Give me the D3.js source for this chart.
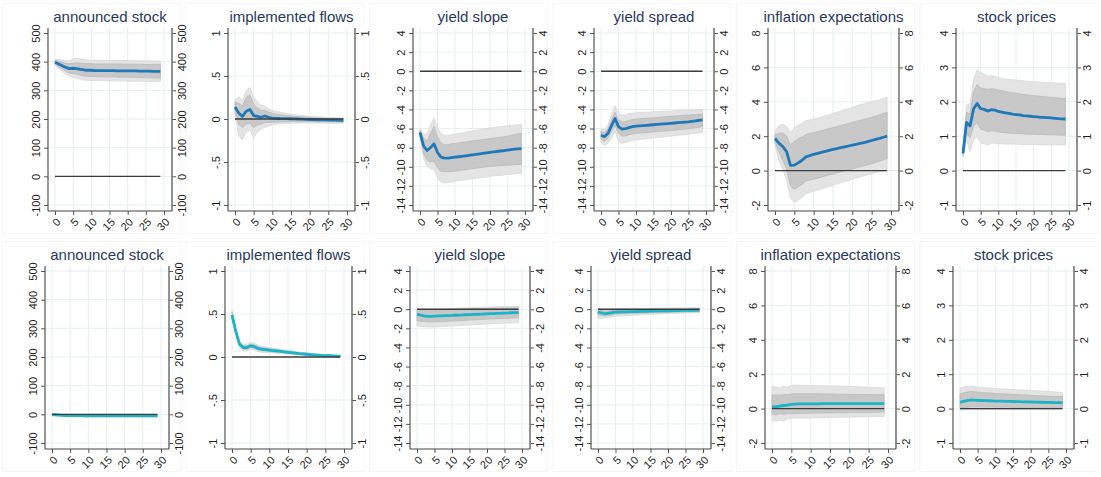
<!DOCTYPE html>
<html>
<head>
<meta charset="utf-8">
<script src="https://cdnjs.cloudflare.com/ajax/libs/d3/7.8.5/d3.min.js"></script>
<style>
  body { margin: 0; background: #fff; }
  svg { display: block; font-family: "Liberation Sans", Arial, sans-serif; }
</style>
</head>
<body>
<div id="chart"></div>
<script>
// impulse responses, horizons 0..29, two rows of six panels

var horizon = [0,1,2,3,4,5,6,7,8,9,10,11,12,13,14,15,16,17,18,19,20,21,22,23,24,25,26,27,28,29];
var xTicks = [0,5,10,15,20,25,30];

var titles = ["announced stock", "implemented flows", "yield slope", "yield spread", "inflation expectations", "stock prices"];

var yTicks = [
  [-100,0,100,200,300,400,500],
  [-1,-0.5,0,0.5,1],
  [-14,-12,-10,-8,-6,-4,-2,0,2,4],
  [-14,-12,-10,-8,-6,-4,-2,0,2,4],
  [-2,0,2,4,6,8],
  [-1,0,1,2,3,4]
];
var yTickLabels = [
  ["-100","0","100","200","300","400","500"],
  ["-1","-.5","0",".5","1"],
  ["-14","-12","-10","-8","-6","-4","-2","0","2","4"],
  ["-14","-12","-10","-8","-6","-4","-2","0","2","4"],
  ["-2","0","2","4","6","8"],
  ["-1","0","1","2","3","4"]
];

/* TOP ROW */
var stockMid    = [398,392,386,380,376,377,376,373,371,370,370,369,369,369,369,369,369,368,368,368,368,368,368,367,367,367,367,366,366,366];
var stockInHi   = [404,402,398,394,393,395,396,395,394,393,393,392,392,392,392,392,392,392,392,391,391,391,391,391,391,390,390,390,390,390];
var stockInLo   = [392,382,374,366,360,358,356,352,350,349,348,348,347,347,347,347,347,346,346,346,346,345,345,345,345,344,344,343,343,343];
var stockOutHi  = [408,408,406,403,403,410,412,410,408,406,405,405,405,404,404,404,404,404,404,404,404,403,403,403,403,403,403,402,402,402];
var stockOutLo  = [388,376,366,356,350,345,342,338,336,335,334,334,334,334,334,333,333,333,333,333,332,332,332,332,332,331,331,331,330,330];

var flowsMid    = [0.14,0.07,0.03,0.09,0.11,0.04,0.03,0.02,0.035,0.02,0.01,0.008,0.006,0.005,0.004,0.003,0.002,0,-0.002,-0.004,-0.006,-0.008,-0.009,-0.01,-0.011,-0.012,-0.013,-0.014,-0.015,-0.015];
var flowsInHi   = [0.2,0.18,0.15,0.25,0.28,0.17,0.13,0.1,0.1,0.08,0.065,0.055,0.05,0.045,0.04,0.035,0.03,0.027,0.024,0.021,0.018,0.015,0.013,0.011,0.009,0.008,0.007,0.006,0.005,0.005];
var flowsInLo   = [0.08,-0.06,-0.1,-0.06,-0.05,-0.1,-0.07,-0.06,-0.04,-0.04,-0.04,-0.035,-0.035,-0.033,-0.032,-0.03,-0.03,-0.03,-0.03,-0.03,-0.03,-0.031,-0.031,-0.032,-0.032,-0.033,-0.033,-0.034,-0.035,-0.035];
var flowsOutHi  = [0.22,0.26,0.22,0.33,0.37,0.25,0.2,0.16,0.15,0.12,0.1,0.09,0.08,0.07,0.06,0.055,0.05,0.045,0.04,0.035,0.03,0.028,0.025,0.022,0.02,0.018,0.016,0.015,0.014,0.013];
var flowsOutLo  = [0.06,-0.2,-0.24,-0.15,-0.13,-0.22,-0.15,-0.12,-0.1,-0.08,-0.07,-0.06,-0.055,-0.05,-0.05,-0.05,-0.048,-0.047,-0.046,-0.046,-0.046,-0.046,-0.047,-0.047,-0.048,-0.048,-0.049,-0.05,-0.05,-0.05];

var slopeMid    = [-6.4,-7.8,-8.3,-8.0,-7.6,-8.5,-9.0,-9.1,-9.1,-9.05,-9.0,-8.95,-8.9,-8.85,-8.8,-8.75,-8.7,-8.65,-8.6,-8.55,-8.5,-8.45,-8.4,-8.35,-8.3,-8.25,-8.2,-8.15,-8.12,-8.1];
var slopeInHi   = [-6.2,-7.0,-7.3,-6.5,-5.8,-6.9,-7.5,-7.7,-7.7,-7.6,-7.55,-7.5,-7.45,-7.4,-7.35,-7.3,-7.25,-7.2,-7.15,-7.1,-7.05,-7.0,-6.95,-6.9,-6.85,-6.8,-6.7,-6.65,-6.55,-6.5];
var slopeInLo   = [-6.6,-8.6,-9.3,-9.5,-9.4,-10.1,-10.5,-10.5,-10.5,-10.5,-10.45,-10.4,-10.35,-10.3,-10.25,-10.2,-10.15,-10.1,-10.05,-10.0,-9.95,-9.95,-9.9,-9.9,-9.85,-9.85,-9.8,-9.8,-9.75,-9.75];
var slopeOutHi  = [-6.0,-6.6,-6.6,-5.6,-4.9,-5.9,-6.5,-6.7,-6.7,-6.65,-6.6,-6.5,-6.45,-6.4,-6.3,-6.25,-6.2,-6.1,-6.05,-6.0,-5.95,-5.9,-5.85,-5.8,-5.75,-5.7,-5.65,-5.65,-5.6,-5.6];
var slopeOutLo  = [-6.8,-9.1,-9.9,-10.2,-10.3,-11.2,-11.6,-11.7,-11.65,-11.6,-11.5,-11.45,-11.4,-11.35,-11.3,-11.25,-11.2,-11.15,-11.1,-11.05,-11.0,-10.95,-10.9,-10.9,-10.85,-10.8,-10.8,-10.75,-10.7,-10.7];

var spreadMid   = [-6.7,-6.85,-6.5,-5.7,-4.95,-5.8,-6.05,-6.0,-5.9,-5.8,-5.75,-5.72,-5.69,-5.66,-5.63,-5.6,-5.57,-5.54,-5.51,-5.48,-5.45,-5.42,-5.39,-5.36,-5.33,-5.3,-5.25,-5.2,-5.15,-5.1];
var spreadInHi  = [-6.3,-6.4,-6.0,-5.1,-4.3,-5.1,-5.3,-5.25,-5.15,-5.05,-5.0,-4.98,-4.95,-4.92,-4.9,-4.87,-4.84,-4.81,-4.78,-4.75,-4.72,-4.69,-4.66,-4.63,-4.6,-4.58,-4.56,-4.54,-4.52,-4.5];
var spreadInLo  = [-7.1,-7.35,-7.0,-6.3,-5.65,-6.5,-6.8,-6.75,-6.65,-6.55,-6.5,-6.47,-6.44,-6.41,-6.38,-6.35,-6.32,-6.29,-6.26,-6.23,-6.2,-6.17,-6.14,-6.1,-6.06,-6.02,-5.98,-5.92,-5.86,-5.8];
var spreadOutHi = [-6.1,-6.1,-5.6,-4.5,-3.6,-4.4,-4.6,-4.55,-4.45,-4.4,-4.35,-4.33,-4.31,-4.29,-4.27,-4.25,-4.23,-4.21,-4.19,-4.17,-4.15,-4.13,-4.11,-4.09,-4.07,-4.06,-4.05,-4.03,-4.02,-4.0];
var spreadOutLo = [-7.4,-7.8,-7.5,-7.0,-6.3,-7.3,-7.55,-7.45,-7.35,-7.25,-7.2,-7.15,-7.1,-7.06,-7.02,-6.98,-6.94,-6.9,-6.86,-6.82,-6.78,-6.74,-6.7,-6.66,-6.62,-6.58,-6.54,-6.5,-6.45,-6.4];

var inflMid     = [1.88,1.6,1.4,1.1,0.3,0.32,0.45,0.6,0.8,0.87,0.95,1.0,1.06,1.12,1.18,1.23,1.28,1.33,1.38,1.43,1.48,1.53,1.58,1.63,1.69,1.75,1.81,1.87,1.94,2.0];
var inflInHi    = [2.1,2.15,2.2,2.0,1.5,1.7,1.85,1.95,2.1,2.15,2.2,2.26,2.32,2.38,2.44,2.5,2.56,2.62,2.68,2.74,2.8,2.86,2.92,2.98,3.04,3.1,3.17,3.24,3.32,3.4];
var inflInLo    = [1.66,1.1,0.6,0.1,-0.9,-1.1,-0.95,-0.8,-0.6,-0.55,-0.5,-0.44,-0.38,-0.32,-0.26,-0.2,-0.14,-0.08,-0.02,0.04,0.1,0.16,0.22,0.28,0.34,0.4,0.47,0.54,0.62,0.7];
var inflOutHi   = [2.3,2.6,2.7,2.55,2.2,2.5,2.65,2.75,2.9,2.95,3.0,3.06,3.12,3.18,3.25,3.32,3.4,3.47,3.54,3.61,3.68,3.75,3.82,3.88,3.94,4.0,4.06,4.12,4.19,4.25];
var inflOutLo   = [1.46,0.6,0.1,-0.6,-1.6,-1.85,-1.7,-1.55,-1.35,-1.28,-1.2,-1.13,-1.06,-0.99,-0.92,-0.85,-0.78,-0.71,-0.64,-0.57,-0.5,-0.43,-0.36,-0.3,-0.24,-0.18,-0.12,-0.07,-0.03,0.0];

var pricesMid   = [0.5,1.4,1.3,1.8,1.95,1.8,1.78,1.73,1.77,1.76,1.72,1.7,1.68,1.66,1.64,1.63,1.62,1.6,1.59,1.58,1.57,1.56,1.55,1.55,1.54,1.53,1.52,1.51,1.505,1.5];
var pricesInHi  = [0.56,1.7,1.65,2.3,2.5,2.4,2.38,2.36,2.38,2.37,2.34,2.32,2.3,2.28,2.26,2.25,2.23,2.21,2.2,2.19,2.18,2.17,2.16,2.15,2.14,2.13,2.12,2.11,2.1,2.1];
var pricesInLo  = [0.44,1.1,0.95,1.3,1.4,1.2,1.18,1.12,1.16,1.15,1.12,1.11,1.1,1.09,1.08,1.08,1.07,1.07,1.06,1.06,1.06,1.05,1.05,1.05,1.04,1.04,1.04,1.03,1.03,1.03];
var pricesOutHi = [0.6,1.9,1.95,2.65,2.93,2.85,2.8,2.75,2.76,2.74,2.7,2.68,2.66,2.65,2.64,2.63,2.62,2.61,2.6,2.59,2.58,2.58,2.57,2.57,2.56,2.56,2.55,2.54,2.54,2.53];
var pricesOutLo = [0.4,0.9,0.55,0.9,1.0,0.8,0.78,0.75,0.8,0.8,0.78,0.78,0.77,0.77,0.77,0.77,0.76,0.76,0.76,0.76,0.76,0.76,0.75,0.75,0.75,0.75,0.75,0.75,0.75,0.75];

/* BOTTOM ROW */
var stock2Mid    = [-1,-2,-3,-3.5,-4,-4.5,-4.5,-4.7,-4.8,-4.9,-5,-5,-5,-5,-5,-5,-5,-5,-5,-5,-5,-5,-5,-5,-5,-5,-5,-5,-5,-5];
var stock2InHi   = [1,0,-1,-1.5,-2,-2.5,-2.5,-2.7,-2.8,-2.9,-3,-3,-3,-3,-3,-3,-3,-3,-3,-3,-3,-3,-3,-3,-3,-3,-3,-3,-3,-3];
var stock2InLo   = [-3,-4,-5,-5.5,-6,-6.5,-6.5,-6.7,-6.8,-6.9,-7,-7,-7,-7,-7,-7,-7,-7,-7,-7,-7,-7,-7,-7,-7,-7,-7,-7,-7,-7];
var stock2OutHi  = [3,2,1,0.5,0,-0.5,-0.5,-0.7,-0.8,-0.9,-1,-1,-1,-1,-1,-1,-1,-1,-1,-1,-1,-1,-1,-1,-1,-1,-1,-1,-1,-1];
var stock2OutLo  = [-5,-6,-7,-7.5,-8,-8.5,-8.5,-8.7,-8.8,-8.9,-9,-9,-9,-9,-9,-9,-9,-9,-9,-9,-9,-9,-9,-9,-9,-9,-9,-9,-9,-9];

var flows2Mid    = [0.49,0.3,0.15,0.11,0.11,0.13,0.12,0.1,0.09,0.085,0.08,0.075,0.07,0.065,0.06,0.055,0.05,0.045,0.04,0.036,0.032,0.028,0.025,0.022,0.019,0.017,0.015,0.013,0.011,0.01];
var flows2InHi   = [0.52,0.32,0.17,0.13,0.13,0.15,0.14,0.12,0.108,0.102,0.096,0.09,0.084,0.078,0.072,0.066,0.06,0.055,0.05,0.045,0.041,0.037,0.033,0.03,0.026,0.024,0.021,0.019,0.017,0.015];
var flows2InLo   = [0.46,0.28,0.13,0.09,0.09,0.11,0.1,0.08,0.072,0.068,0.064,0.06,0.056,0.052,0.048,0.044,0.04,0.035,0.03,0.027,0.023,0.019,0.017,0.014,0.012,0.01,0.009,0.007,0.005,0.005];
var flows2OutHi  = [0.55,0.34,0.19,0.15,0.15,0.17,0.16,0.14,0.125,0.118,0.11,0.104,0.097,0.09,0.084,0.077,0.07,0.064,0.058,0.053,0.048,0.043,0.039,0.035,0.031,0.028,0.025,0.022,0.02,0.018];
var flows2OutLo  = [0.43,0.26,0.11,0.07,0.07,0.09,0.08,0.06,0.055,0.052,0.05,0.046,0.043,0.04,0.036,0.033,0.03,0.026,0.022,0.019,0.016,0.013,0.011,0.009,0.007,0.006,0.005,0.004,0.002,0.002];

var slope2Mid    = [-0.55,-0.62,-0.7,-0.75,-0.74,-0.72,-0.7,-0.69,-0.67,-0.66,-0.65,-0.63,-0.61,-0.6,-0.58,-0.56,-0.54,-0.53,-0.51,-0.5,-0.48,-0.46,-0.45,-0.43,-0.42,-0.4,-0.39,-0.37,-0.36,-0.35];
var slope2InHi   = [-0.05,-0.1,-0.15,-0.18,-0.16,-0.14,-0.12,-0.1,-0.08,-0.07,-0.05,-0.03,-0.01,0,0.01,0.03,0.04,0.05,0.06,0.07,0.08,0.09,0.1,0.11,0.12,0.12,0.13,0.14,0.14,0.15];
var slope2InLo   = [-1.2,-1.25,-1.3,-1.33,-1.33,-1.32,-1.3,-1.29,-1.27,-1.26,-1.24,-1.22,-1.2,-1.18,-1.16,-1.14,-1.12,-1.1,-1.08,-1.06,-1.04,-1.02,-1.0,-0.99,-0.97,-0.96,-0.94,-0.92,-0.91,-0.9];
var slope2OutHi  = [0.05,0,-0.05,-0.08,-0.06,-0.03,0,0.02,0.04,0.06,0.08,0.1,0.12,0.14,0.15,0.17,0.18,0.2,0.21,0.22,0.23,0.24,0.25,0.26,0.27,0.28,0.28,0.29,0.3,0.3];
var slope2OutLo  = [-1.75,-1.8,-1.83,-1.85,-1.85,-1.85,-1.83,-1.81,-1.79,-1.77,-1.75,-1.73,-1.71,-1.69,-1.67,-1.65,-1.63,-1.61,-1.59,-1.57,-1.55,-1.53,-1.51,-1.5,-1.48,-1.46,-1.44,-1.43,-1.41,-1.4];

var spread2Mid   = [-0.3,-0.38,-0.45,-0.42,-0.36,-0.3,-0.29,-0.28,-0.27,-0.26,-0.25,-0.24,-0.23,-0.22,-0.21,-0.2,-0.19,-0.18,-0.17,-0.165,-0.16,-0.15,-0.14,-0.135,-0.13,-0.12,-0.115,-0.11,-0.105,-0.1];
var spread2InHi  = [-0.05,-0.12,-0.2,-0.18,-0.14,-0.1,-0.09,-0.08,-0.08,-0.07,-0.06,-0.05,-0.05,-0.04,-0.03,-0.03,-0.02,-0.01,-0.01,0,0,0.01,0.01,0.02,0.02,0.02,0.03,0.03,0.03,0.03];
var spread2InLo  = [-0.6,-0.66,-0.72,-0.67,-0.6,-0.52,-0.5,-0.49,-0.47,-0.46,-0.44,-0.43,-0.42,-0.41,-0.39,-0.38,-0.37,-0.36,-0.35,-0.34,-0.33,-0.32,-0.31,-0.3,-0.29,-0.28,-0.27,-0.26,-0.25,-0.24];
var spread2OutHi = [0.1,0.03,-0.05,-0.04,0,0.03,0.04,0.05,0.05,0.06,0.07,0.08,0.08,0.09,0.1,0.1,0.11,0.11,0.12,0.12,0.13,0.13,0.13,0.14,0.14,0.14,0.15,0.15,0.15,0.15];
var spread2OutLo = [-0.97,-0.95,-0.92,-0.85,-0.8,-0.75,-0.72,-0.7,-0.68,-0.66,-0.64,-0.62,-0.6,-0.58,-0.56,-0.55,-0.53,-0.51,-0.5,-0.48,-0.47,-0.45,-0.44,-0.43,-0.41,-0.4,-0.39,-0.38,-0.36,-0.35];

var infl2Mid     = [0.1,0.1,0.15,0.18,0.2,0.25,0.26,0.27,0.27,0.28,0.28,0.28,0.28,0.29,0.29,0.29,0.29,0.29,0.29,0.29,0.29,0.29,0.29,0.29,0.29,0.29,0.29,0.29,0.29,0.29];
var infl2InHi    = [0.8,0.78,0.78,0.82,0.8,0.85,0.86,0.86,0.86,0.86,0.86,0.86,0.86,0.85,0.85,0.85,0.85,0.84,0.84,0.84,0.83,0.83,0.83,0.82,0.82,0.82,0.81,0.81,0.8,0.8];
var infl2InLo    = [-0.35,-0.36,-0.3,-0.33,-0.3,-0.3,-0.29,-0.28,-0.28,-0.27,-0.27,-0.26,-0.26,-0.26,-0.25,-0.25,-0.25,-0.24,-0.24,-0.24,-0.23,-0.23,-0.23,-0.22,-0.22,-0.22,-0.21,-0.21,-0.2,-0.2];
var infl2OutHi   = [1.3,1.25,1.2,1.3,1.25,1.35,1.36,1.36,1.35,1.35,1.35,1.34,1.34,1.33,1.33,1.32,1.32,1.31,1.3,1.3,1.29,1.28,1.27,1.26,1.25,1.24,1.23,1.22,1.21,1.2];
var infl2OutLo   = [-0.7,-0.72,-0.68,-0.72,-0.6,-0.55,-0.55,-0.55,-0.55,-0.55,-0.55,-0.54,-0.54,-0.53,-0.53,-0.52,-0.52,-0.51,-0.51,-0.5,-0.5,-0.49,-0.49,-0.48,-0.48,-0.47,-0.47,-0.46,-0.46,-0.46];

var prices2Mid   = [0.18,0.21,0.23,0.25,0.245,0.24,0.235,0.23,0.228,0.225,0.22,0.218,0.215,0.212,0.21,0.207,0.205,0.2,0.198,0.195,0.192,0.19,0.187,0.185,0.182,0.18,0.177,0.175,0.172,0.17];
var prices2InHi  = [0.42,0.46,0.48,0.5,0.49,0.48,0.47,0.46,0.455,0.45,0.44,0.435,0.43,0.425,0.42,0.415,0.41,0.4,0.395,0.39,0.385,0.38,0.375,0.37,0.365,0.36,0.36,0.355,0.35,0.35];
var prices2InLo  = [0.02,0.03,0.04,0.05,0.05,0.05,0.05,0.045,0.045,0.045,0.04,0.04,0.04,0.04,0.04,0.035,0.035,0.035,0.035,0.03,0.03,0.03,0.03,0.03,0.025,0.025,0.025,0.02,0.02,0.02];
var prices2OutHi = [0.6,0.63,0.65,0.65,0.64,0.63,0.62,0.61,0.6,0.59,0.58,0.575,0.57,0.565,0.56,0.555,0.55,0.545,0.54,0.535,0.53,0.52,0.515,0.51,0.5,0.495,0.49,0.48,0.475,0.47];
var prices2OutLo = [-0.05,-0.04,-0.03,-0.03,-0.03,-0.03,-0.03,-0.03,-0.03,-0.03,-0.03,-0.03,-0.03,-0.03,-0.03,-0.03,-0.03,-0.03,-0.03,-0.03,-0.03,-0.03,-0.03,-0.03,-0.03,-0.03,-0.03,-0.03,-0.03,-0.03];

var panels = [
  [
    { mid: stockMid,  inHi: stockInHi,  inLo: stockInLo,  outHi: stockOutHi,  outLo: stockOutLo },
    { mid: flowsMid,  inHi: flowsInHi,  inLo: flowsInLo,  outHi: flowsOutHi,  outLo: flowsOutLo },
    { mid: slopeMid,  inHi: slopeInHi,  inLo: slopeInLo,  outHi: slopeOutHi,  outLo: slopeOutLo },
    { mid: spreadMid, inHi: spreadInHi, inLo: spreadInLo, outHi: spreadOutHi, outLo: spreadOutLo },
    { mid: inflMid,   inHi: inflInHi,   inLo: inflInLo,   outHi: inflOutHi,   outLo: inflOutLo },
    { mid: pricesMid, inHi: pricesInHi, inLo: pricesInLo, outHi: pricesOutHi, outLo: pricesOutLo }
  ],
  [
    { mid: stock2Mid,  inHi: stock2InHi,  inLo: stock2InLo,  outHi: stock2OutHi,  outLo: stock2OutLo },
    { mid: flows2Mid,  inHi: flows2InHi,  inLo: flows2InLo,  outHi: flows2OutHi,  outLo: flows2OutLo },
    { mid: slope2Mid,  inHi: slope2InHi,  inLo: slope2InLo,  outHi: slope2OutHi,  outLo: slope2OutLo },
    { mid: spread2Mid, inHi: spread2InHi, inLo: spread2InLo, outHi: spread2OutHi, outLo: spread2OutLo },
    { mid: infl2Mid,   inHi: infl2InHi,   inLo: infl2InLo,   outHi: infl2OutHi,   outLo: infl2OutLo },
    { mid: prices2Mid, inHi: prices2InHi, inLo: prices2InLo, outHi: prices2OutHi, outLo: prices2OutLo }
  ]
];

var lineColor = ["#1f78b8", "#1bb3c8"];

// plot region edges (Stata sizes each panel to its labels)
var colLeft  = [48, 228, 413, 594, 768, 956];
var colRight = [172, 355, 533, 714, 899, 1077];
var rowTop    = [28, 266];
var rowBottom = [211, 449];
var rowShift  = [0, -3];

var width = 1101, height = 477;

var svg = d3.select("#chart").append("svg")
    .attr("width", width)
    .attr("height", height);

// very faint subgraph frames
[0, 1].forEach(function(r) {
  for (var c = 0; c < 6; c++) {
    svg.append("rect")
      .attr("x", c * 183.5 + 2.5)
      .attr("y", r === 0 ? 3.5 : 241.5)
      .attr("width", 178)
      .attr("height", 230)
      .attr("fill", "none")
      .attr("stroke", "#f6f6f6");
  }
});

panels.forEach(function(row, r) {
  row.forEach(function(d, c) {
    drawPanel(d, r, c);
  });
});

function drawPanel(d, r, c) {
  var L = colLeft[c] + rowShift[r], R = colRight[c] + rowShift[r];
  var T = rowTop[r], B = rowBottom[r];
  var ticks = yTicks[c];

  var x = d3.scaleLinear().domain([0, 30]).range([L + 7, R - 8]);
  var y = d3.scaleLinear().domain([ticks[0], ticks[ticks.length - 1]]).range([B - 6, T + 5]);

  var g = svg.append("g");

  // grid
  g.selectAll(".vgrid").data(xTicks).enter().append("line")
    .attr("x1", function(v) { return x(v); })
    .attr("x2", function(v) { return x(v); })
    .attr("y1", T).attr("y2", B)
    .attr("stroke", "#e6eff1").attr("stroke-width", 1);
  g.selectAll(".hgrid").data(ticks).enter().append("line")
    .attr("x1", L).attr("x2", R)
    .attr("y1", function(v) { return y(v); })
    .attr("y2", function(v) { return y(v); })
    .attr("stroke", "#e6eff1").attr("stroke-width", 1);

  var pts = horizon.map(function(h, i) {
    return { h: h, mid: d.mid[i], inHi: d.inHi[i], inLo: d.inLo[i], outHi: d.outHi[i], outLo: d.outLo[i] };
  });

  var outer = d3.area().x(function(p) { return x(p.h); })
    .y0(function(p) { return y(p.outLo); }).y1(function(p) { return y(p.outHi); });
  var inner = d3.area().x(function(p) { return x(p.h); })
    .y0(function(p) { return y(p.inLo); }).y1(function(p) { return y(p.inHi); });
  var line = d3.line().x(function(p) { return x(p.h); }).y(function(p) { return y(p.mid); });

  g.append("path").datum(pts).attr("d", outer)
    .attr("fill", "#e4e4e4").attr("stroke", "#d8d8d8").attr("stroke-width", 0.8);
  g.append("path").datum(pts).attr("d", inner)
    .attr("fill", "#c8c8c8").attr("stroke", "#bababa").attr("stroke-width", 0.8);
  g.append("path").datum(pts).attr("d", line)
    .attr("fill", "none").attr("stroke", lineColor[r]).attr("stroke-width", 2.8)
    .attr("stroke-linejoin", "round");

  // zero line
  g.append("line")
    .attr("x1", x(0)).attr("x2", x(29))
    .attr("y1", y(0)).attr("y2", y(0))
    .attr("stroke", "#3c3c3c").attr("stroke-width", 1.4);

  // axes
  var fmt = function(v, i) { return yTickLabels[c][i]; };

  var left = g.append("g").attr("transform", "translate(" + L + ",0)")
    .call(d3.axisLeft(y).tickValues(ticks).tickFormat(fmt).tickSize(4).tickSizeOuter(0));
  var right = g.append("g").attr("transform", "translate(" + R + ",0)")
    .call(d3.axisRight(y).tickValues(ticks).tickFormat(fmt).tickSize(4).tickSizeOuter(0));
  var bottom = g.append("g").attr("transform", "translate(0," + B + ")")
    .call(d3.axisBottom(x).tickValues(xTicks).tickSize(4).tickSizeOuter(0));

  [left, right, bottom].forEach(function(ax) {
    ax.select(".domain").remove();
    ax.selectAll(".tick line").attr("stroke", "#555");
    ax.selectAll("text").attr("fill", "#1e1e1e").style("font-size", "11px")
      .style("font-family", "'Liberation Sans', Arial, sans-serif");
  });

  left.selectAll("text")
    .attr("x", 0).attr("y", 0).attr("dy", 0)
    .attr("text-anchor", "middle")
    .attr("transform", "translate(-8,0) rotate(-90)");
  right.selectAll("text")
    .attr("x", 0).attr("y", 0).attr("dy", 0)
    .attr("text-anchor", "middle")
    .attr("transform", "translate(14,0) rotate(-90)");
  bottom.selectAll("text")
    .attr("x", 0).attr("y", 0).attr("dy", "0.35em")
    .attr("text-anchor", "end")
    .attr("transform", "translate(3,9) rotate(-45)");

  // axis lines
  g.append("line").attr("x1", L).attr("x2", L).attr("y1", T).attr("y2", B)
    .attr("stroke", "#444").attr("stroke-width", 1.1);
  g.append("line").attr("x1", R).attr("x2", R).attr("y1", T).attr("y2", B)
    .attr("stroke", "#777").attr("stroke-width", 1.6);
  g.append("line").attr("x1", L).attr("x2", R).attr("y1", B).attr("y2", B)
    .attr("stroke", "#444").attr("stroke-width", 1.1);

  // title
  g.append("text")
    .attr("x", (L + R) / 2).attr("y", T - 11).attr("dy", "0.35em")
    .attr("text-anchor", "middle")
    .attr("fill", "#2a3960")
    .style("font-size", "15px")
    .text(titles[c]);
}
</script>
</body>
</html>
